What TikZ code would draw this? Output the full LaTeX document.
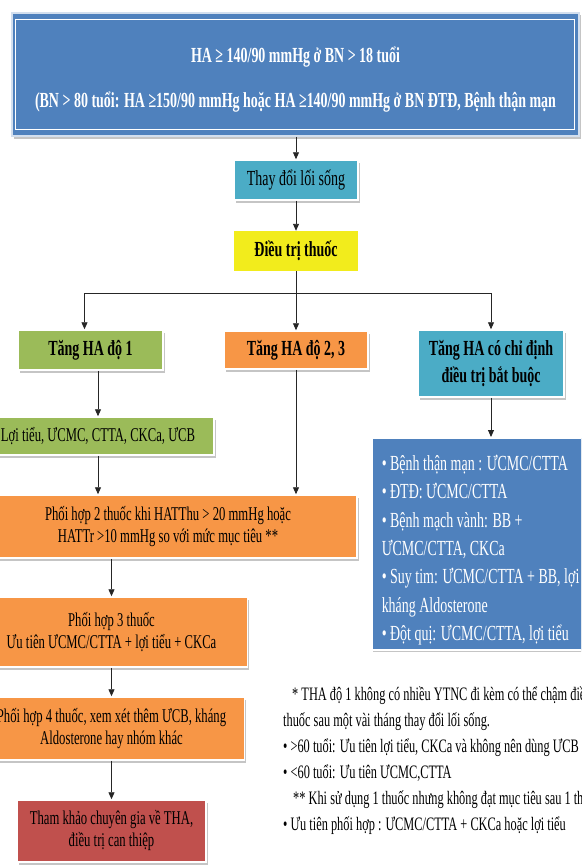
\documentclass[tikz,border=0pt]{standalone}
\usepackage{fontspec}
\setmainfont{Liberation Serif}[FakeStretch=0.65]
\usetikzlibrary{arrows.meta,positioning,shadows}
\definecolor{hblue}{HTML}{4F81BD}
\definecolor{hteal}{HTML}{4BACC6}
\definecolor{hyellow}{HTML}{F2EC1C}
\definecolor{hgreen}{HTML}{9BBB59}
\definecolor{horange}{HTML}{F79646}
\definecolor{hred}{HTML}{C0504D}

\begin{document}
\begin{tikzpicture}[x=1pt, y=-1pt,
    box/.style={draw=white, line width=1.5pt, align=center, inner sep=2pt, drop shadow={shadow xshift=1.5pt, shadow yshift=-2.5pt, fill=black!45, opacity=.5}, font=\fontsize{19.5}{22}\selectfont},
    head/.style={box, font=\fontsize{21.5}{27}\selectfont\bfseries},
    link/.style={-{Triangle[length=7pt, width=6pt]}, line width=0.9pt, black!85},
    wire/.style={line width=0.9pt, black!85}
]
\useasboundingbox (0,0) rectangle (581,867);
\clip (0,0) rectangle (581,867);

\node[box, fill=hblue, draw=white!75!hblue, text=white, minimum width=567, minimum height=123, font=\fontsize{21.5}{24}\selectfont\bfseries] (top) at (295.5,74.5) {\rule{0pt}{25pt}HA ≥ 140/90 mmHg ở BN > 18 tuổi\\[21pt](BN > 80 tuổi: HA ≥150/90 mmHg hoặc HA ≥140/90 mmHg ở BN ĐTĐ, Bệnh thận mạn};
\draw[white, line width=1.2pt] ([xshift=4pt, yshift=-7pt]top.north west) rectangle ([xshift=-5pt, yshift=7pt]top.south east);

\node[box, fill=hteal, minimum width=124, minimum height=40, font=\fontsize{21.5}{24}\selectfont] (life) at (296,180) {Thay đổi lối sống};
\node[fill=hyellow, minimum width=124, minimum height=40, font=\fontsize{21.5}{24}\selectfont\bfseries] (drug) at (296,251) {Điều trị thuốc};
\coordinate (fork) at (296,293);

\node[head, fill=hgreen, minimum width=145, minimum height=40] (deg1) at (90.5,350) {Tăng HA độ 1};
\node[head, fill=horange, minimum width=144, minimum height=38] (deg23) at (296,350) {Tăng HA độ 2, 3};
\node[head, fill=hteal, minimum width=146, minimum height=67] (must) at (491,363.5) {Tăng HA có chỉ định\\điều trị bắt buộc};

\node[box, fill=hgreen, minimum width=232, minimum height=38] (drugs1) at (98,436) {Lợi tiểu, ƯCMC, CTTA, CKCa, ƯCB};
\node[box, fill=horange, minimum width=378, minimum height=63] (combo2) at (168,526.5) {Phối hợp 2 thuốc khi HATThu > 20 mmHg hoặc\\HATTr >10 mmHg so với mức mục tiêu **};
\node[box, fill=horange, minimum width=272, minimum height=70] (combo3) at (111.5,632) {Phối hợp 3 thuốc\\Ưu tiên ƯCMC/CTTA + lợi tiểu + CKCa};
\node[box, fill=horange, minimum width=266, minimum height=63] (combo4) at (111.5,728.5) {Phối hợp 4 thuốc, xem xét thêm ƯCB, kháng\\Aldosterone hay nhóm khác};
\node[box, fill=hred, minimum width=189, minimum height=62] (expert) at (111.5,831) {Tham khảo chuyên gia về THA,\\điều trị can thiệp};

\node[box, fill=hblue, text=white, anchor=north west, text width=260pt, inner xsep=10pt, minimum height=212, align=left, font=\fontsize{21.5}{28.3}\selectfont] (cases) at (371,437) {\spaceskip=0pt\xspaceskip=0pt\rule{0pt}{28pt}• Bệnh thận mạn : ƯCMC/CTTA\\• ĐTĐ: ƯCMC/CTTA\\• Bệnh mạch vành: BB +\\ƯCMC/CTTA, CKCa\\• Suy tim: ƯCMC/CTTA + BB, lợi tiểu\\kháng Aldosterone\\• Đột quị: ƯCMC/CTTA, lợi tiểu};

\node[anchor=north west, align=left, inner sep=0pt, font=\fontsize{19}{26}\selectfont] (notes) at (283,687) {\hspace*{9pt}* THA độ 1 không có nhiều YTNC đi kèm có thể chậm điều trị\\thuốc sau một vài tháng thay đổi lối sống.\\• >60 tuổi: Ưu tiên lợi tiểu, CKCa và không nên dùng ƯCB\\• <60 tuổi: Ưu tiên ƯCMC,CTTA\\\hspace*{10pt}** Khi sử dụng 1 thuốc nhưng không đạt mục tiêu sau 1 tháng\\• Ưu tiên phối hợp : ƯCMC/CTTA + CKCa hoặc lợi tiểu};

\draw[link] (top.south -| life.north) -- (life);
\draw[link] (life) -- (drug);
\draw[wire] (drug) -- (fork);
\draw[link] (fork) -| ([xshift=-6pt]deg1.north);
\draw[link] (fork) -- (deg23);
\draw[link] (fork) -| (must);
\draw[link] (deg1.south -| drugs1.north) -- (drugs1);
\draw[link] (drugs1.south) -- (drugs1.south |- combo2.north);
\draw[link] (deg23.south) -- (deg23.south |- combo2.north);
\draw[link] (combo2.south -| combo3.north) -- (combo3);
\draw[link] (combo3) -- (combo4);
\draw[link] (combo4) -- (expert);
\draw[link] (must.south) -- (must.south |- cases.north);
\end{tikzpicture}
\end{document}
